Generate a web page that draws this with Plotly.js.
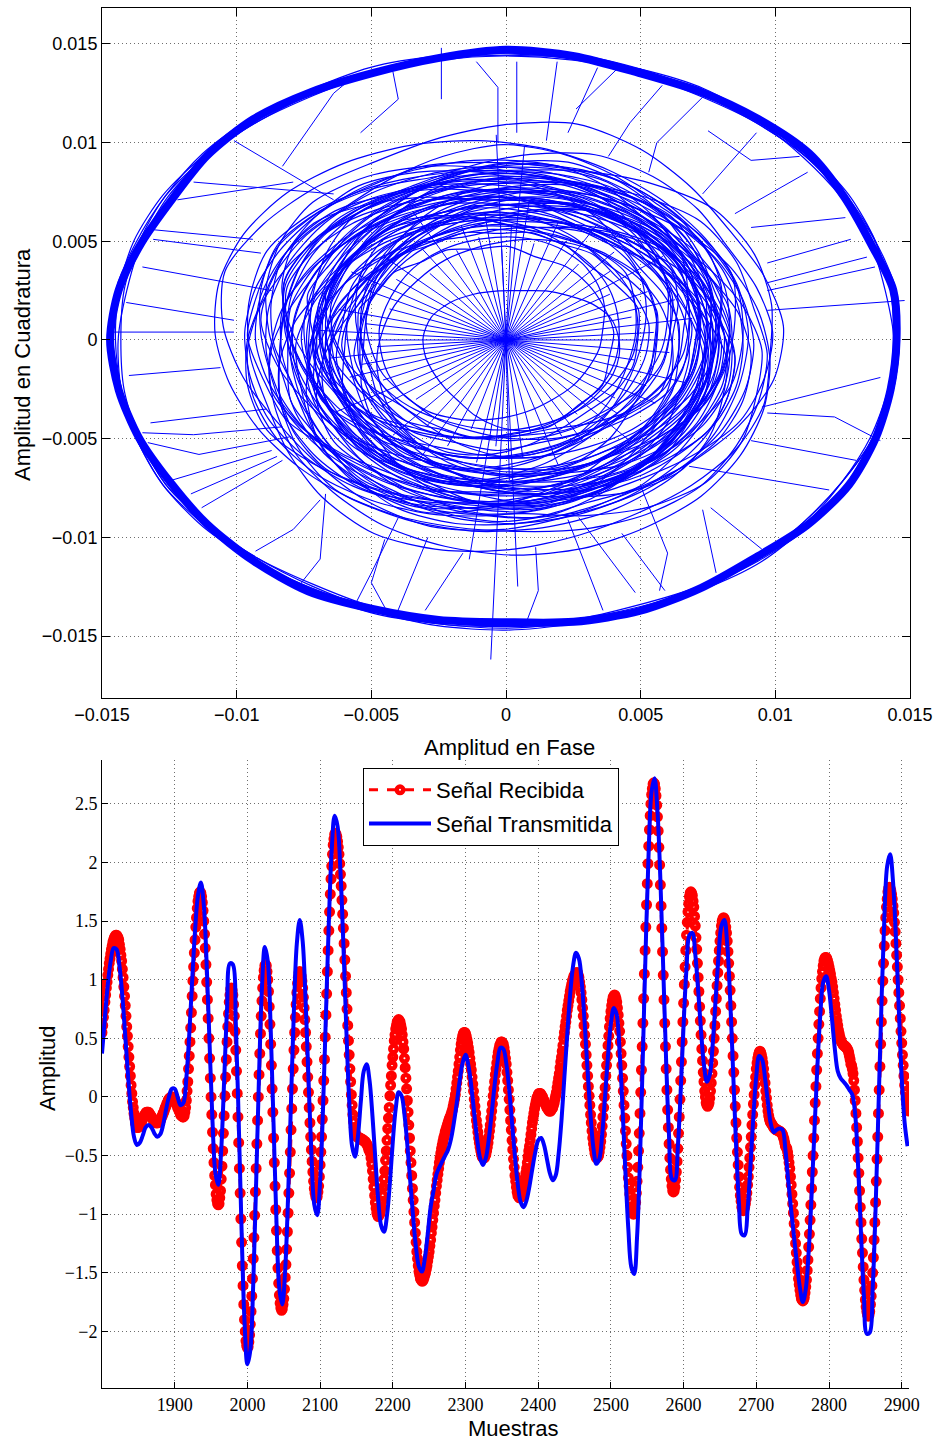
<!DOCTYPE html>
<html>
<head>
<meta charset="utf-8">
<script src="https://cdn.plot.ly/plotly-3.0.1.min.js"></script>
<style>
  html, body { margin: 0; padding: 0; background: #ffffff; }
  #chart { width: 939px; height: 1442px; }
</style>
</head>
<body>
<div id="chart"></div>
<script>
// ===== Constellation (I/Q) — radii in units of 1e-4 =====
// Outer ring laps, 36 radii each, 10° apart (first lap is drawn heavy)
const ringLap1 = [145,146,144,145,147,146,145,144,146,147,145,144,145,146,145,143,144,146,147,146,145,144,145,146,147,145,144,143,145,146,145,144,146,147,146,145];
const ringLap2 = [144,145,146,146,145,144,144,145,145,144,144,145,146,146,145,144,144,145,146,145,144,145,146,146,145,144,144,145,146,147,146,145,144,144,145,145];
const ringLap3 = [146,147,146,145,145,146,147,146,145,145,146,147,146,145,146,147,147,146,145,145,146,147,146,145,146,147,146,146,145,145,146,147,146,146,145,146];
const ringLap4 = [144,143,144,145,145,144,143,144,145,146,145,144,143,144,145,145,144,143,144,145,145,146,145,144,143,144,145,145,144,143,144,145,145,144,144,144];
const ringLap5 = [146,145,146,147,147,146,145,146,147,146,145,145,146,147,147,146,146,147,146,145,146,147,147,146,145,146,147,147,146,146,145,146,147,146,146,146];
const ringLap6 = [145,146,145,144,144,145,146,145,144,144,145,145,144,144,145,146,145,144,143,144,145,146,145,144,144,145,146,145,144,144,145,145,144,144,145,145];

// Inner trajectory loops, 24 radii each, 15° apart, around the centres below
const innerLoops = [
  [80,81,79,77,76,75,72,70,69,66,64,64,65,63,65,67,68,69,72,75,76,77,80,81],
  [67,70,68,68,66,67,68,66,67,69,68,70,66,65,62,61,57,56,54,55,58,59,63,66],
  [73,71,74,75,78,79,81,86,87,88,92,93,91,93,90,90,86,84,83,78,78,74,72,73],
  [56,53,50,50,47,48,46,48,47,50,52,52,56,57,60,60,63,62,64,62,63,60,58,57],
  [96,97,95,94,93,89,88,89,87,88,89,87,88,85,85,81,80,81,79,83,84,89,91,95],
  [63,64,66,71,73,77,77,79,75,74,72,68,68,67,69,70,72,71,73,70,67,66,64,62],
  [51,49,48,47,44,45,42,43,41,43,42,45,44,47,48,49,52,51,54,53,55,53,54,51],
  [73,71,72,73,71,73,71,72,74,75,77,81,85,86,90,89,90,86,85,80,78,76,72,73],
  [66,67,68,67,66,64,62,60,58,56,55,54,54,54,55,55,57,58,60,62,63,64,65,66],
  [84,86,88,90,92,93,94,93,92,90,88,86,84,82,80,78,77,76,76,77,78,80,82,83],
  [70,69,69,70,71,72,73,75,77,79,80,82,83,84,84,83,82,80,78,76,74,73,72,71],
  [58,58,57,56,55,53,51,49,48,47,46,45,45,46,47,48,49,50,52,54,55,56,57,58],
  [95,94,93,91,89,88,87,87,87,88,89,90,91,92,94,95,97,98,99,99,98,98,97,96],
  [74,73,70,67,64,62,61,62,64,67,70,73,74,73,70,67,64,62,61,62,64,67,70,73],
  [76,77,79,81,83,85,86,87,87,86,85,83,81,79,77,76,75,74,74,74,75,75,76,76],
  [63,62,61,60,59,58,58,58,59,60,61,62,63,65,66,67,68,69,69,69,68,67,66,64],
  [36,37,38,37,35,34,33,34,36,38,39,38,36,34,33,33,35,37,38,37,35,34,34,35],
  [40,42,44,46,47,47,46,45,44,43,42,42,43,44,46,48,49,48,46,44,42,41,40,40],
  [73,73,75,78,80,82,83,82,80,78,75,73,73,73,75,78,80,82,83,82,80,78,75,73],
  [100,99,97,96,96,97,98,99,100,101,101,100,98,96,95,95,96,98,100,101,102,102,101,100],
  [54,55,57,59,61,62,62,61,60,58,57,56,56,56,57,58,59,59,58,57,56,55,54,54],
  [76,75,74,73,72,71,70,69,68,67,67,67,68,68,69,70,71,72,73,74,75,76,76,76],
  [83,84,86,88,89,89,88,86,85,85,86,88,90,91,91,90,88,86,84,83,82,82,82,83],
  [61,63,65,66,67,67,66,65,64,63,63,64,65,67,69,70,70,69,67,65,63,62,61,61],
  [79,81,82,82,81,79,77,75,73,72,71,71,72,73,75,77,78,79,80,80,79,78,78,78],
  [68,66,65,65,66,68,70,72,73,74,74,73,72,70,69,68,68,69,71,72,72,71,70,69],
  [84,83,81,79,78,78,79,81,83,85,86,86,85,83,81,80,80,81,83,85,86,86,85,85],
  [58,60,62,64,65,65,64,62,60,58,57,56,56,57,58,60,61,62,62,61,60,59,58,58],
  [73,71,70,70,71,73,75,77,79,80,80,79,77,75,74,73,73,74,75,76,76,75,74,74],
  [90,91,92,92,91,89,87,85,84,83,83,84,85,86,88,89,90,90,89,88,88,88,89,90],
  [64,66,69,71,72,72,70,68,66,65,65,66,68,70,71,71,69,67,65,63,62,62,63,64],
  [76,77,78,80,82,83,83,82,80,78,76,75,74,74,75,76,77,78,78,77,76,76,76,76],
  [47,48,50,52,54,55,55,54,52,50,49,49,50,51,52,53,53,52,50,49,48,47,47,47],
  [82,80,79,78,78,79,80,82,84,85,85,84,83,82,82,83,84,85,85,84,83,82,82,82],
  [70,72,74,75,75,74,72,70,68,67,67,68,70,72,74,75,75,74,72,70,69,69,69,70],
  [86,85,84,83,83,84,86,88,89,90,90,89,87,85,84,84,85,87,88,88,87,86,86,86],
  [78,80,77,75,79,82,80,76,74,77,81,83,80,77,75,78,82,84,81,78,76,79,81,79],
  [65,63,66,69,67,64,62,65,68,70,67,64,63,66,69,71,68,65,63,64,67,69,67,66],
  [88,85,83,86,89,87,84,82,85,88,90,87,84,83,86,89,91,88,85,84,86,89,90,89],
  [72,75,73,70,68,71,74,76,73,70,69,72,75,77,74,71,70,73,76,75,72,70,71,72],
  [59,61,64,62,59,57,60,63,65,62,59,58,61,64,66,63,60,58,60,63,64,61,59,58],
  [82,79,77,80,83,85,82,79,78,81,84,86,83,80,79,82,85,84,81,78,77,80,83,83],
  [69,72,70,67,66,69,72,74,71,68,67,70,73,75,72,69,68,71,73,71,68,66,67,68],
  [76,74,71,73,77,79,76,73,72,75,78,80,77,74,73,76,79,80,77,74,72,74,77,77],
  [92,90,93,95,92,89,88,91,94,96,93,90,89,92,95,97,94,91,90,92,94,95,93,92],
  [55,57,54,52,55,58,60,57,54,53,56,59,61,58,55,54,57,60,59,56,53,52,54,55],
  [74,71,69,72,75,77,74,71,70,73,76,78,75,72,71,74,77,76,73,70,69,71,74,74],
  [86,88,85,82,84,87,89,86,83,82,85,88,90,87,84,83,86,89,88,85,82,83,86,86],
  [63,66,68,65,62,61,64,67,69,66,63,62,65,68,70,67,64,62,63,66,68,66,63,63],
  [80,77,79,82,80,77,75,78,81,83,80,77,76,79,82,84,81,78,77,79,82,81,79,80],
  [70,68,71,73,70,67,66,69,72,74,71,68,67,70,73,75,72,69,68,70,73,72,70,70],
  [84,87,89,86,83,82,85,88,90,87,84,83,86,89,91,88,85,83,84,87,89,88,85,84],
  [67,64,62,65,68,70,67,64,63,66,69,71,68,65,64,67,70,69,66,63,62,64,67,67],
  [77,80,78,75,74,77,80,82,79,76,75,78,81,83,80,77,76,79,81,80,77,75,76,77],
  [90,87,85,88,91,93,90,87,86,89,92,94,91,88,87,90,93,92,89,86,85,87,90,90],
  [61,63,60,58,61,64,66,63,60,59,62,65,67,64,61,60,63,66,65,62,59,58,60,61],
  [73,76,74,71,70,73,76,78,75,72,71,74,77,79,76,73,72,75,77,76,73,71,72,73],
  [81,78,80,83,81,78,76,79,82,84,81,78,77,80,83,85,82,79,78,80,83,82,80,81],
  [68,70,73,71,68,66,69,72,74,71,68,67,70,73,75,72,69,67,68,71,73,71,68,68],
  [87,85,82,84,87,89,86,83,82,85,88,90,87,84,83,86,89,88,85,82,81,83,86,87],
  [70,74,79,81,77,72,69,73,78,84,86,82,76,71,68,72,77,80,76,71,66,64,67,70],
  [88,84,80,78,81,86,90,93,89,85,80,77,79,84,89,92,90,86,83,87,92,95,93,89],
  [62,58,55,57,62,67,71,68,63,59,57,60,65,70,73,70,65,61,58,56,59,63,66,64],
  [79,83,87,85,80,76,74,78,83,88,86,81,77,73,75,80,84,87,83,78,75,72,74,78],
  [95,99,103,105,101,97,94,96,100,104,106,102,98,95,97,101,104,102,98,94,92,93,95,96],
  [53,56,60,63,61,57,54,52,55,59,63,65,62,58,54,51,53,57,61,63,60,56,53,52],
  [74,70,67,69,74,79,82,79,74,70,68,71,76,81,83,80,75,71,69,72,77,80,78,75],
  [85,89,91,88,84,81,83,87,91,93,90,86,82,80,83,87,90,92,88,84,81,80,82,84],
  [66,69,73,76,74,70,66,64,67,71,75,77,74,70,67,65,68,72,75,73,69,66,64,65],
  [104,100,97,99,103,106,102,98,96,99,103,107,104,100,97,98,102,105,103,99,96,98,101,104],
  [77,81,78,74,72,75,80,84,81,77,74,76,80,83,80,76,73,75,79,82,80,76,74,76],
  [58,62,66,64,60,57,59,63,67,69,66,62,59,57,60,64,67,65,61,58,56,58,61,59]
];
const loopCenterI = [4,-6,10,-3,-8,5,-11,7,2,-5,9,-9,3,-2,12,-7,6,-4,1,-10,8,-1,-6,11,-3,5,-8,2,9,-12,0,7,-5,3,-9,6,-2,10,-7,4,-11,1,8,-4,5,-6,11,-1,-8,3,7,-10,2,-3,9,-5,6,-7,0,4,-4,7,2,-9,3,-2,8,-6,5,-1,-7,4];
const loopCenterQ = [-3,5,-7,8,2,-9,4,-2,10,-6,3,7,-10,1,-4,9,-8,6,-1,3,-11,5,-5,2,8,-7,0,11,-3,4,-9,6,1,-8,7,-2,9,-5,3,-10,2,8,-4,6,-7,1,-9,10,-3,5,-6,0,7,-11,4,-1,8,-5,3,-8,6,-5,9,-3,-8,2,-10,4,-1,7,-4,3];

// Jumps through the origin: direction (deg) and length
const spokeAngles  = [0,4,9,14,18,25,31,36,42,48,55,60,66,72,78,83,88,92,97,101,106,112,118,124,130,137,143,149,154,160,166,171,176,180,184,188,193,198,204,210,216,222,229,236,242,248,254,260,266,271,276,281,287,293,299,305,312,318,324,330,336,342,348,354,268,92,272,86,263];
const spokeLengths = [62,55,70,48,66,58,45,72,52,60,47,68,55,63,50,71,58,46,65,53,60,49,74,56,44,62,51,67,57,46,64,53,70,59,48,66,55,61,50,73,57,45,64,52,69,58,47,63,54,71,60,48,66,53,59,46,68,56,50,64,57,70,49,61,162,104,125,98,112];

// Transitions between the ring and the inner cloud (I and Q, null = break)
const connectorI = [
  -132,-94,null, -131,-91,null, -135,-87,null, -141,-101,null, -146,-101,null, -140,-106,null,
  -132,-89,null, -135,-116,-83,null, -133,-114,-80,null, -124,-87,null, -117,-85,null, -113,-83,null,
  -93,-79,-69,null, -76,-69,-67,null, -56,-50,-40,null, -44,-50,-45,null, -41,-29,null, -30,-16,null,
  11,12,7,null, 23,36,null, 27,48,null, 43,59,null, 50,60,57,null, 73,78,null, 76,95,null,
  68,120,null, 91,130,null, 95,139,null, 97,122,139,null,
  126,91,null, 128,97,null, 134,97,null, 137,97,null, 148,97,null,
  109,91,75,null, 112,85,null, 93,73,null,
  -57,-64,-83,null, -42,-40,-54,null, -24,-24,null, -11,-3,-3,null, 4,4,null, 19,15,null,
  34,23,null, 41,26,null, 58,46,38,null, 73,56,53,null,
  -101,-73,-64,null, -116,-64,null, -122,-79
];
const connectorQ = [
  56,51,null, 51,44,null, 37,25,null, 19,10,null, 4,4,null, -18,-14,null,
  -42,-35,null, -47,-48,-44,null, -52,-58,-49,null, -71,-56,null, -78,-59,null, -85,-61,null,
  -107,-96,-81,null, -123,-111,-78,null, -134,-118,-90,null, -138,-123,-101,null, -140,-100,null, -137,-108,null,
  -105,-127,-145,null, -91,-137,null, -90,-128,null, -98,-127,null, -74,-108,-127,null, -86,-118,null, -85,-106,null,
  -64,-76,null, -51,-61,null, -34,-19,null, -37,-39,-51,null,
  62,57,null, 51,39,null, 42,29,null, 37,25,null, 20,15,null,
  93,91,106,null, 85,64,null, 105,74,null,
  133,125,88,null, 136,122,105,null, 148,122,null, 141,128,100,null, 141,105,null, 141,101,null,
  138,105,null, 137,117,null, 129,110,93,null, 123,100,85,null,
  101,78,71,null, 80,74,null, 71,80
];

// ===== Time series — amplitudes in hundredths =====
const firstSample = 1800;
// Received signal, one value per sample (1800 … 2910)
const receivedSignal = [
  55,61,68,74,81,87,93,98,104,109,114,118,122,126,129,132,134,136,137,138,138,
  137,136,134,130,126,121,116,109,102,94,86,78,69,60,52,43,34,26,18,10,3,-4,-9,-14,-18,-22,-24,-26,-26,
  -26,-25,-24,-23,-22,-20,-19,-17,-16,-15,-14,-13,-13,
  -13,-13,-14,-15,-16,-17,-18,-19,-20,-20,-21,-22,-22,-22,
  -22,-21,-21,-20,-19,-17,-16,-14,-13,-11,-9,-8,-6,-5,-3,-2,-1,-1,0,0,
  0,-1,-1,-2,-4,-5,-7,-9,-10,-12,-13,-15,-16,-16,-17,-17,
  -16,-13,-9,-3,5,13,24,35,47,59,72,86,99,111,123,134,145,153,161,167,171,174,175,
  174,171,166,159,150,139,127,113,98,83,67,50,33,16,0,-15,-30,-44,-56,-67,-75,-83,-88,-91,-92,
  -91,-86,-80,-70,-59,-46,-31,-16,1,17,32,47,60,71,81,87,92,93,
  91,87,79,69,56,40,22,3,-17,-39,-61,-82,-104,-124,-144,-161,-177,-190,-200,-208,-212,-214,
  -213,-209,-203,-194,-183,-170,-155,-138,-120,-101,-81,-61,-40,-20,0,19,37,54,69,82,93,102,108,112,113,
  112,107,100,90,77,62,45,27,7,-13,-35,-56,-76,-96,-114,-131,-146,-159,-169,-176,-180,-182,
  -181,-177,-172,-164,-154,-143,-130,-115,-99,-82,-65,-47,-28,-10,7,24,40,55,68,79,89,97,102,106,107,
  106,103,99,93,85,76,66,55,43,30,17,4,-9,-22,-34,-45,-55,-64,-72,-78,-82,-85,-86,
  -85,-81,-76,-68,-58,-47,-34,-19,-3,14,32,51,70,88,107,125,142,158,173,186,197,207,215,220,224,225,
  224,222,218,213,207,199,190,180,168,156,144,131,117,103,89,75,61,48,36,24,13,2,-7,-15,-21,-26,-30,-32,-33,
  -34,-34,-35,-35,-35,-36,-36,-36,-37,-37,-38,-38,-39,-40,-41,-43,-45,
  -46,-48,-52,-57,-63,-70,-77,-84,-90,-95,-99,-101,-102,
  -101,-100,-97,-94,-89,-84,-77,-70,-63,-54,-46,-37,-27,-18,-9,1,10,18,27,34,41,48,53,58,61,64,65,66,
  65,64,61,58,53,47,41,33,25,16,7,-3,-13,-24,-35,-46,-56,-67,-78,-88,-98,-107,-116,-124,-132,-138,-144,-149,-152,-155,-156,-157,
  -157,-156,-154,-152,-150,-147,-144,-140,-136,-132,-127,-122,-116,-111,-105,-99,-93,-88,-82,-76,-71,-66,-61,-56,-52,-48,-44,-41,-38,-35,-33,-30,-28,-26,-24,-22,-20,-18,-17,-15,-13,-11,-8,-5,-2,2,7,12,17,22,28,34,40,45,49,52,54,55,
  55,54,52,49,46,42,38,33,28,23,17,11,5,-2,-8,-14,-20,-25,-30,-35,-39,-43,-46,-49,-51,-52,-52,
  -52,-50,-49,-46,-43,-39,-34,-29,-24,-18,-12,-6,1,7,13,19,24,29,34,38,41,44,45,47,47,
  46,45,42,38,33,28,21,14,6,-2,-11,-20,-28,-37,-45,-53,-60,-67,-72,-77,-81,-84,-85,-86,
  -86,-85,-84,-82,-79,-76,-73,-69,-65,-61,-56,-51,-46,-42,-37,-32,-27,-22,-18,-14,-10,-7,-4,-1,0,2,3,3,
  3,2,1,0,-2,-3,-5,-6,-8,-9,-10,-11,-12,-12,
  -12,-11,-10,-9,-7,-5,-2,1,4,8,12,16,20,25,30,34,39,44,50,55,60,64,69,74,78,82,86,90,93,96,99,101,103,104,105,106,106,
  106,104,102,98,94,89,83,76,69,61,53,45,36,27,18,9,1,-7,-15,-22,-29,-35,-40,-44,-48,-50,-52,-52,
  -51,-50,-47,-43,-38,-32,-25,-17,-9,0,8,18,27,35,44,52,60,67,73,78,82,85,86,87,
  86,84,81,76,70,63,56,47,37,27,16,5,-7,-18,-29,-40,-50,-60,-69,-76,-83,-89,-94,-97,-99,-100,
  -99,-95,-90,-82,-72,-60,-46,-31,-14,4,23,43,63,84,105,125,145,164,182,199,214,228,240,250,258,263,267,268,
  267,263,257,249,239,227,213,198,181,163,144,124,104,83,63,43,24,6,-11,-26,-40,-52,-62,-70,-76,-80,-81,
  -80,-77,-71,-64,-55,-44,-31,-17,-2,14,30,47,64,80,96,111,125,138,149,158,165,171,174,175,
  174,172,167,162,154,146,136,126,114,102,90,77,65,53,41,31,21,13,5,0,-5,-7,-8,
  -7,-5,-1,5,12,20,29,39,50,61,73,84,95,106,116,125,133,140,146,150,152,153,
  152,150,145,140,133,124,114,103,91,78,64,50,35,21,6,-8,-22,-35,-47,-58,-68,-77,-84,-89,-94,-96,-97,
  -96,-94,-91,-87,-82,-75,-68,-60,-52,-43,-34,-24,-15,-6,2,10,17,24,29,33,36,38,39,
  38,36,33,29,24,18,12,5,-1,-7,-12,-16,-19,-21,-22,
  -23,-24,-25,-26,-27,-27,-28,-28,-28,-29,-29,-29,-30,-30,-31,-32,-34,-36,-39,-42,
  -43,-44,-47,-51,-56,-61,-68,-75,-83,-91,-99,-108,-117,-125,-133,-141,-148,-155,-160,-165,-169,-172,-173,-174,
  -173,-171,-167,-162,-156,-148,-139,-128,-117,-105,-92,-78,-64,-50,-35,-20,-5,9,23,37,50,62,73,84,93,101,107,112,116,118,119,
  119,118,116,114,111,108,105,101,98,94,89,84,79,74,69,65,61,57,54,51,49,47,46,45,44,44,43,43,42,41,40,38,35,32,28,
  27,24,20,14,6,-3,-14,-26,-38,-52,-65,-80,-94,-107,-121,-133,-145,-156,-165,-173,-179,-183,-186,-187,
  -186,-183,-177,-170,-161,-150,-137,-122,-107,-90,-72,-53,-34,-14,6,26,45,64,82,99,114,129,142,153,162,169,175,178,179,
  178,176,173,169,163,157,149,141,131,121,111,100,89,78,67,56,46,36,27,18,10,4,-2,-6,-9,-11,-12
];
// Transmitted signal, one value every 4 samples (1800 … 2908)
const transmittedStep = 4;
const transmittedSignal = [
  37,68,96,116,127,126,112,86,52,17,
  -13,-34,-41,-39,-33,-26,-24,-26,-31,-34,
  -32,-24,-11,0,7,7,0,-7,-5,16,
  53,99,142,172,183,164,113,45,-21,-65,
  -75,-45,14,75,114,113,64,-20,-114,-191,
  -228,-216,-160,-74,19,93,128,116,59,-24,
  -107,-164,-177,-147,-84,-3,75,131,151,133,
  83,16,-48,-92,-101,-72,-10,70,149,211,
  240,231,192,130,59,-3,-42,-51,-34,-4,
  22,28,14,-16,-53,-88,-110,-115,-101,-73,
  -38,-10,4,1,-15,-41,-72,-103,-129,-145,
  -149,-138,-117,-94,-80,-66,-60,-55,-50,-45,
  -36,-22,-5,14,29,36,27,9,-14,-36,
  -52,-58,-52,-36,-14,10,30,42,41,29,
  7,-22,-51,-75,-90,-94,-88,-76,-61,-47,
  -37,-35,-41,-53,-65,-71,-67,-49,-20,17,
  54,88,112,123,118,97,62,22,-16,-44,
  -57,-53,-32,1,35,63,76,70,38,-10,
  -65,-113,-145,-151,-119,-53,37,131,211,261,
  272,244,186,109,30,-34,-70,-71,-43,5,
  62,110,138,140,122,91,56,27,13,19,
  45,83,120,146,151,130,84,23,-39,-89,
  -117,-118,-96,-58,-16,18,35,32,16,-5,
  -23,-30,-28,-27,-28,-45,-72,-97,-120,-143,
  -163,-175,-164,-132,-84,-28,26,70,98,103,
  91,67,41,22,16,13,10,6,2,-15,
  -59,-117,-170,-202,-201,-164,-96,-10,77,151,
  197,207,184,136,75,16,-22,-42
];

// Axis ticks
const iqTicks = [-0.015, -0.01, -0.005, 0, 0.005, 0.01, 0.015];
const iqTickText = ['\u22120.015', '\u22120.01', '\u22120.005', '0', '0.005', '0.01', '0.015'];
const sampleTicks = [1900, 2000, 2100, 2200, 2300, 2400, 2500, 2600, 2700, 2800, 2900];
const amplitudeTicks = [-2, -1.5, -1, -0.5, 0, 0.5, 1, 1.5, 2, 2.5];

// ===== Build traces =====
const UNIT = 1e-4;
const DEG = Math.PI / 180;
const BLUE = '#0000ff';
const RED = '#ff0000';

function polarToIQ(radii, closed, ci, cq) {
  const step = 360 / radii.length;
  const pts = closed ? radii.concat([radii[0]]) : radii;
  const x = [], y = [];
  pts.forEach((r, i) => {
    const a = i * step * DEG;
    x.push((ci || 0) * UNIT + r * UNIT * Math.cos(a));
    y.push((cq || 0) * UNIT + r * UNIT * Math.sin(a));
  });
  return { x, y };
}

function iqLine(xy, width, shape) {
  return {
    type: 'scatter', mode: 'lines', x: xy.x, y: xy.y, xaxis: 'x', yaxis: 'y',
    line: { color: BLUE, width: width, shape: shape || 'linear', smoothing: 0.8 },
    hoverinfo: 'skip', showlegend: false, connectgaps: false
  };
}

const traces = [];

// inner loops, each closed on itself
const loopX = [], loopY = [];
innerLoops.forEach((radii, k) => {
  const p = polarToIQ(radii, true, loopCenterI[k], loopCenterQ[k]);
  loopX.push(...p.x, null); loopY.push(...p.y, null);
});
traces.push(iqLine({ x: loopX, y: loopY }, 1.2, 'spline'));

// spokes through the origin
const spokeX = [], spokeY = [];
spokeAngles.forEach((a, i) => {
  const r = spokeLengths[i] * UNIT;
  spokeX.push(0, r * Math.cos(a * DEG), null);
  spokeY.push(0, r * Math.sin(a * DEG), null);
});
traces.push(iqLine({ x: spokeX, y: spokeY }, 1));

// ring-to-cloud transitions
traces.push(iqLine({
  x: connectorI.map(v => v === null ? null : v * UNIT),
  y: connectorQ.map(v => v === null ? null : v * UNIT)
}, 1));

// outer ring
[ringLap2, ringLap3, ringLap4, ringLap5, ringLap6].forEach(lap => {
  traces.push(iqLine(polarToIQ(lap, true), 1.2, 'spline'));
});
traces.push(iqLine(polarToIQ(ringLap1, true), 8, 'spline'));

// time series
const recvX = receivedSignal.map((_, i) => firstSample + i);
const recvY = receivedSignal.map(v => v / 100);
const sentX = transmittedSignal.map((_, i) => firstSample + i * transmittedStep);
const sentY = transmittedSignal.map(v => v / 100);

traces.push({
  type: 'scatter', mode: 'lines+markers', name: 'Se\u00f1al Recibida',
  x: recvX, y: recvY, xaxis: 'x2', yaxis: 'y2', legendgroup: 'rx',
  line: { color: RED, width: 3, dash: 'dash' },
  marker: { symbol: 'circle-open', size: 6.5, color: RED, line: { color: RED, width: 4.5 } },
  hoverinfo: 'skip'
});
traces.push({
  type: 'scatter', mode: 'lines', name: 'Se\u00f1al Transmitida',
  x: sentX, y: sentY, xaxis: 'x2', yaxis: 'y2', legendgroup: 'tx',
  line: { color: BLUE, width: 4, shape: 'spline', smoothing: 1 },
  hoverinfo: 'skip'
});

// ===== Layout =====
const W = 939, H = 1442;
const SANS = 'Liberation Sans, Arial, Helvetica, sans-serif';
const SERIF = 'Liberation Serif, Times New Roman, serif';

const gridStyle = { showgrid: true, gridcolor: '#6e6e6e', gridwidth: 1, griddash: '1px,3px', zeroline: false };

const layout = {
  width: W, height: H,
  margin: { l: 0, r: 0, t: 0, b: 0 },
  paper_bgcolor: '#ffffff', plot_bgcolor: '#ffffff',
  font: { family: SANS, color: '#000000' },
  showlegend: true,
  xaxis: Object.assign({
    domain: [102 / W, 910 / W], anchor: 'y', range: [-0.015, 0.015],
    tickmode: 'array', tickvals: iqTicks, ticktext: iqTickText,
    tickfont: { family: SANS, size: 18, color: '#000' },
    showline: true, linecolor: '#000', linewidth: 1, mirror: 'ticks',
    ticks: 'inside', ticklen: 8, tickcolor: '#000', tickwidth: 1
  }, gridStyle),
  yaxis: Object.assign({
    domain: [(H - 698) / H, (H - 8) / H], anchor: 'x', range: [-0.01814, 0.01682],
    tickmode: 'array', tickvals: iqTicks, ticktext: iqTickText,
    tickfont: { family: SANS, size: 18, color: '#000' },
    showline: true, linecolor: '#000', linewidth: 1, mirror: 'ticks',
    ticks: 'inside', ticklen: 8, tickcolor: '#000', tickwidth: 1
  }, gridStyle),
  xaxis2: Object.assign({
    domain: [102 / W, 909 / W], anchor: 'y2', range: [1800, 2910],
    tickmode: 'array', tickvals: sampleTicks,
    tickfont: { family: SERIF, size: 18, color: '#000' },
    showline: true, linecolor: '#000', linewidth: 1, mirror: false,
    ticks: 'inside', ticklen: 6, tickcolor: '#000', tickwidth: 1
  }, gridStyle),
  yaxis2: Object.assign({
    domain: [(H - 1388) / H, (H - 760) / H], anchor: 'x2', range: [-2.483, 2.875],
    tickmode: 'array', tickvals: amplitudeTicks,
    tickfont: { family: SERIF, size: 18, color: '#000' },
    showline: true, linecolor: '#000', linewidth: 1, mirror: false,
    ticks: 'inside', ticklen: 6, tickcolor: '#000', tickwidth: 1
  }, gridStyle),
  legend: {
    x: 363 / W, y: (H - 768) / H, xanchor: 'left', yanchor: 'top',
    bgcolor: '#ffffff', bordercolor: '#000000', borderwidth: 1,
    font: { family: SANS, size: 22, color: '#000' },
    traceorder: 'grouped', tracegroupgap: 2, itemwidth: 62
  },
  annotations: [
    { text: 'Amplitud en Fase', xref: 'paper', yref: 'paper', x: 509 / W, y: (H - 747) / H,
      xanchor: 'center', yanchor: 'middle', showarrow: false, font: { family: SANS, size: 22, color: '#000' } },
    { text: 'Amplitud en Cuadratura', xref: 'paper', yref: 'paper', x: 22 / W, y: (H - 365) / H,
      xanchor: 'center', yanchor: 'middle', textangle: -90, showarrow: false, font: { family: SANS, size: 22, color: '#000' } },
    { text: 'Muestras', xref: 'paper', yref: 'paper', x: 513 / W, y: (H - 1428) / H,
      xanchor: 'center', yanchor: 'middle', showarrow: false, font: { family: SANS, size: 22, color: '#000' } },
    { text: 'Amplitud', xref: 'paper', yref: 'paper', x: 47 / W, y: (H - 1068) / H,
      xanchor: 'center', yanchor: 'middle', textangle: -90, showarrow: false, font: { family: SANS, size: 22, color: '#000' } }
  ]
};

Plotly.newPlot('chart', traces, layout, { staticPlot: true, displayModeBar: false });
</script>
</body>
</html>
